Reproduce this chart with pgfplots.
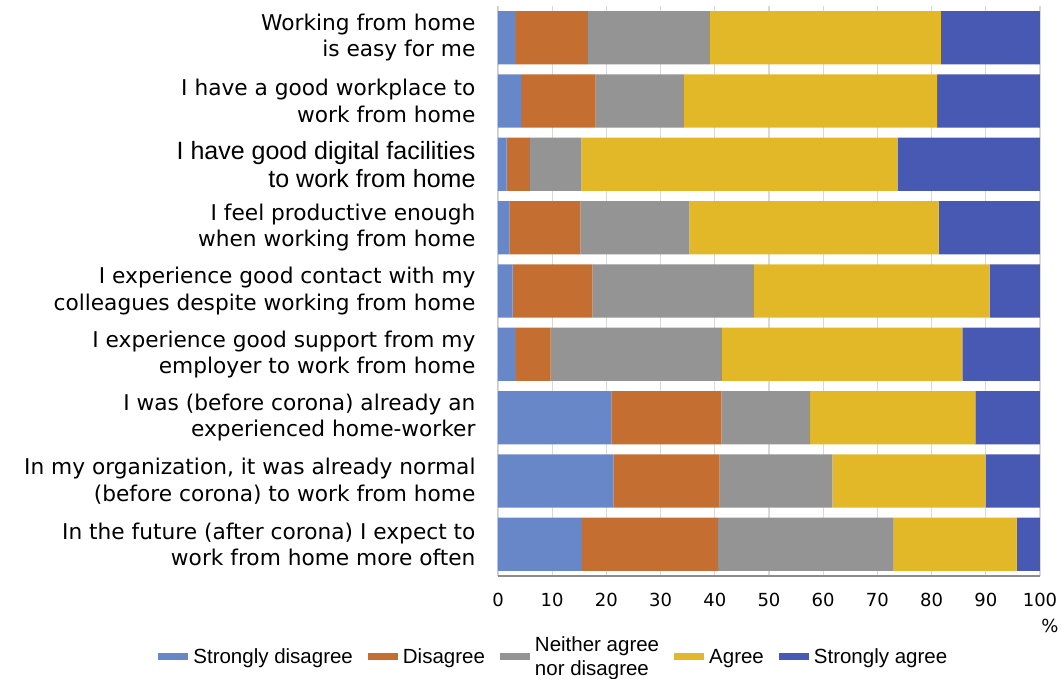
\documentclass[border=0pt]{standalone}
\usepackage{pgfplots}
\pgfplotsset{compat=1.18}
\usepackage{fontspec}
\setmainfont{DejaVu Sans}
\newfontfamily\legfont{Liberation Sans}
\newcommand\bigf{\legfont\fontsize{25}{30}\selectfont}
\definecolor{csd}{HTML}{6787C8}
\definecolor{cd}{HTML}{C46E31}
\definecolor{cn}{HTML}{949494}
\definecolor{ca}{HTML}{E3B828}
\definecolor{csa}{HTML}{4859B4}
\begin{document}
\begin{tikzpicture}
\begin{axis}[name=ax,
  scale only axis, width=542pt, height=570pt,
  xbar stacked, bar width=0.84,
  y dir=reverse, ymin=0.5, ymax=9.5,
  xmin=0, xmax=100, xtick={0,10,...,100},
  ytick={1,...,9},
  yticklabels={{Working from home\\is easy for me},
    {I have a good workplace to\\work from home},
    {\bigf I have good digital facilities\\[2pt]\bigf to work from home},
    {I feel productive enough\\when working from home},
    {I experience good contact with my\\colleagues despite working from home},
    {I experience good support from my\\employer to work from home},
    {I was (before corona) already an\\experienced home-worker},
    {In my organization, it was already normal\\(before corona) to work from home},
    {In the future (after corona) I expect to\\work from home more often}},
  yticklabel style={align=right, font=\fontsize{21.7}{26.5}\selectfont, xshift=-19pt},
  xticklabel style={font=\fontsize{18}{20}\selectfont, yshift=-14pt},
  /pgf/number format/assume math mode=true,
  major tick length=0pt,
  xmajorgrids, grid style={color=black!15, line width=1.2pt},
  axis x line*=bottom, axis y line*=left,
  x axis line style={draw=black!45, line width=1.2pt},
  y axis line style={draw=black!20, line width=1pt},
  xlabel={\%},
  xlabel style={at={(rel axis cs:1,0)}, anchor=north, font=\fontsize{18}{20}\selectfont, yshift=-40pt, xshift=10pt},
  legend columns=5,
  legend style={draw=none, fill=none, at={(0.103,-0.142)}, anchor=center,
    font=\legfont\fontsize{20.5}{24}\selectfont, cells={align=left},
    /tikz/every even column/.append style={column sep=13pt},
    /tikz/every odd column/.append style={column sep=3pt}},
  legend image code/.code={\fill[#1,draw=none] (0pt,-0.32em) rectangle (30pt,0.36em);},
]
\addplot[fill=csd, draw=none] coordinates {(3.3,1) (4.2,2) (1.6,3) (2.1,4) (2.7,5) (3.3,6) (20.9,7) (21.3,8) (15.5,9)};
\addplot[fill=cd, draw=none] coordinates {(13.3,1) (13.8,2) (4.3,3) (13.1,4) (14.7,5) (6.4,6) (20.3,7) (19.6,8) (25.1,9)};
\addplot[fill=cn, draw=none] coordinates {(22.5,1) (16.3,2) (9.5,3) (20.1,4) (29.8,5) (31.6,6) (16.4,7) (20.8,8) (32.4,9)};
\addplot[fill=ca, draw=none] coordinates {(42.6,1) (46.7,2) (58.4,3) (46.0,4) (43.5,5) (44.4,6) (30.5,7) (28.3,8) (22.7,9)};
\addplot[fill=csa, draw=none] coordinates {(18.3,1) (19.0,2) (26.2,3) (18.7,4) (9.3,5) (14.3,6) (11.9,7) (10.0,8) (4.3,9)};
\legend{Strongly disagree, Disagree, {Neither agree\\nor disagree}, Agree, Strongly agree}
\end{axis}
\pgfresetboundingbox
\path[use as bounding box] ([shift={(-498pt,-103pt)}]ax.south west) rectangle ([shift={(21pt,6pt)}]ax.north east);
\end{tikzpicture}
\end{document}
